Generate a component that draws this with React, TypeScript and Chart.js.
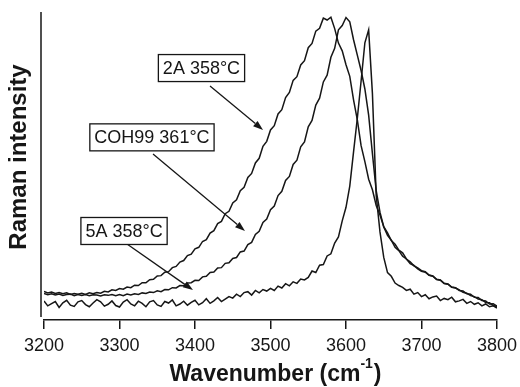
import React, { useEffect, useRef } from "react";
import { Chart, registerables } from "chart.js";

Chart.register(...registerables);

// Sampling grid of the spectra (cm^-1)
const WAVENUMBER_START = 3200;
const WAVENUMBER_STEP = 5;

// Raman intensity (arbitrary units), one value every 5 cm^-1 from 3200 to 3800
const INTENSITY_2A = [
  9.3, 8.8, 9.1, 8.6, 8.9, 8.5, 8.8, 8.3, 8.6, 8.4,
  8.7, 8.3, 8.8, 8.5, 8.9, 8.7, 9.3, 9.1, 9.8, 9.6,
  10.2, 10.0, 10.7, 10.5, 11.3, 11.2, 12.1, 12.1, 13.1, 13.2,
  14.3, 14.4, 15.5, 15.7, 17.0, 17.4, 18.8, 19.3, 20.9, 21.4,
  23.1, 23.6, 25.5, 26.1, 28.2, 29.0, 31.3, 32.0, 34.5, 35.3,
  38.0, 39.0, 42.0, 43.1, 46.3, 47.6, 51.0, 52.5, 56.4, 58.0,
  61.7, 63.1, 66.9, 68.3, 72.2, 73.9, 77.8, 79.0, 82.8, 84.2,
  88.4, 89.8, 93.8, 94.7, 98.0, 97.4, 98.3, 94.6, 89.9, 87.4,
  82.9, 79.1, 71.5, 65.0, 56.6, 51.4, 45.7, 42.3, 37.2, 34.1,
  30.3, 28.3, 25.8, 24.6, 22.7, 21.8, 19.8, 18.9, 17.6, 16.9,
  16.0, 15.7, 14.6, 14.3, 13.2, 13.0, 11.9, 11.7, 10.7, 10.5,
  9.6, 9.4, 8.5, 8.4, 7.4, 7.3, 6.3, 6.2, 5.2, 5.3,
  4.5,
];

const INTENSITY_COH99 = [
  8.6, 8.2, 8.5, 8.1, 8.4, 8.0, 8.3, 8.4, 7.9, 8.3,
  8.0, 8.3, 7.9, 8.2, 8.1, 7.8, 8.2, 8.0, 8.3, 7.9,
  8.3, 7.9, 8.4, 8.1, 8.5, 8.3, 8.8, 8.6, 9.1, 8.9,
  9.5, 9.2, 9.9, 9.8, 10.5, 10.4, 11.2, 11.1, 12.0, 12.1,
  12.9, 12.8, 14.0, 14.2, 15.4, 15.6, 16.9, 17.0, 18.4, 18.6,
  20.0, 20.3, 22.1, 22.4, 24.5, 25.2, 27.8, 28.8, 31.7, 32.8,
  35.8, 37.0, 40.4, 41.8, 45.3, 46.6, 50.5, 51.9, 56.2, 57.8,
  62.7, 64.8, 69.8, 72.0, 77.3, 79.5, 85.3, 88.2, 94.2, 95.6,
  98.2, 96.8, 91.0, 86.0, 81.0, 75.0, 66.5, 54.0, 42.0, 35.0,
  30.2, 27.5, 25.9, 23.6, 22.5, 20.7, 19.8, 18.3, 17.7, 16.6,
  15.8, 15.5, 14.5, 14.2, 13.1, 12.9, 11.8, 11.6, 10.6, 10.4,
  9.8, 9.0, 8.7, 7.9, 7.6, 6.8, 6.6, 5.7, 5.6, 4.7,
  4.4,
];

const INTENSITY_5A = [
  6.2, 4.6, 5.3, 6.0, 4.1, 5.6, 6.4, 4.8, 4.4, 5.9,
  6.3, 5.0, 4.3, 5.5, 6.6, 5.9, 4.5, 5.1, 6.2, 4.7,
  4.2, 5.8, 6.6, 5.2, 4.6, 6.1, 5.4, 4.3, 5.9, 6.3,
  4.9, 4.4, 6.0, 5.5, 6.5, 4.6, 5.2, 6.1, 4.8, 5.7,
  6.4, 4.9, 5.6, 6.9, 5.4, 6.2, 7.3, 6.0, 6.8, 7.6,
  7.1, 8.4, 7.6, 8.9, 9.2, 8.1, 9.6, 8.8, 9.9, 9.4,
  10.3, 9.6, 11.0, 10.4, 11.8, 11.1, 12.4, 11.9, 13.3, 13.0,
  13.8, 15.9, 15.4, 17.8, 18.0, 20.8, 21.5, 25.0, 27.0, 32.2,
  36.6, 43.5, 54.6, 65.5, 77.6, 90.0, 94.2, 73.5, 40.4, 28.6,
  20.3, 15.4, 14.2, 12.0, 11.2, 10.6, 9.6, 10.0, 8.4, 8.9,
  7.6, 8.2, 6.9, 7.5, 7.8, 6.3, 7.0, 6.6, 7.4, 5.9,
  6.2, 6.7, 5.4, 6.0, 5.1, 5.6, 4.6, 5.2, 4.3, 4.6,
  3.9,
];

const X_TICKS = [3200, 3300, 3400, 3500, 3600, 3700, 3800];
const X_MIN = 3200;
const X_MAX = 3800;
const Y_MIN = 0;
const Y_MAX = 100;

const SERIES_LABELS = ["2A 358°C", "COH99 361°C", "5A 358°C"];
const Y_TITLE = "Raman intensity";
const X_TITLE_MAIN = "Wavenumber (cm";
const X_TITLE_SUP = "-1";
const X_TITLE_END = ")";

// Callouts, anchored in data coordinates (wavenumber, intensity)
const CALLOUTS = [
  { text: SERIES_LABELS[0], box: [3408.6, 81.8], from: [3419.9, 76.0], to: [3490.1, 61.7] },
  { text: SERIES_LABELS[1], box: [3343.0, 59.3], from: [3344.4, 53.9], to: [3466.2, 28.9] },
  { text: SERIES_LABELS[2], box: [3306.0, 28.9], from: [3309.9, 24.7], to: [3397.3, 9.7] },
];

const INK = "#161616";
const FONT = "'Liberation Sans', Arial, Helvetica, sans-serif";

const toPoints = (arr: number[]) =>
  arr.map((v, i) => ({ x: WAVENUMBER_START + i * WAVENUMBER_STEP, y: v }));

const decorPlugin = {
  id: "decor",
  afterDraw(chart: any) {
    const { ctx, chartArea } = chart;
    const xs = chart.scales.x;
    const ys = chart.scales.y;
    ctx.save();

    // y axis line (offset from x axis, as in the figure)
    ctx.strokeStyle = INK;
    ctx.lineWidth = 1.5;
    ctx.beginPath();
    ctx.moveTo(chartArea.left - 3, chartArea.top);
    ctx.lineTo(chartArea.left - 3, chartArea.bottom - 3);
    ctx.stroke();

    // y title
    ctx.save();
    ctx.translate(19, (chartArea.top + chartArea.bottom) / 2 - 9);
    ctx.rotate(-Math.PI / 2);
    ctx.fillStyle = INK;
    ctx.font = `bold 24px ${FONT}`;
    ctx.textAlign = "center";
    ctx.textBaseline = "middle";
    ctx.fillText(Y_TITLE, 0, 0);
    ctx.restore();

    // x title with superscript
    const mainFont = `bold 23px ${FONT}`;
    const supFont = `bold 14px ${FONT}`;
    ctx.font = mainFont;
    const wMain = ctx.measureText(X_TITLE_MAIN).width;
    const wEnd = ctx.measureText(X_TITLE_END).width;
    ctx.font = supFont;
    const wSup = ctx.measureText(X_TITLE_SUP).width;
    const total = wMain + wSup + 1 + wEnd;
    const cx = (chartArea.left + chartArea.right) / 2 + 5;
    const baseY = 381;
    let tx = cx - total / 2;
    ctx.fillStyle = INK;
    ctx.textAlign = "left";
    ctx.textBaseline = "alphabetic";
    ctx.font = mainFont;
    ctx.fillText(X_TITLE_MAIN, tx, baseY);
    tx += wMain;
    ctx.font = supFont;
    ctx.fillText(X_TITLE_SUP, tx, baseY - 13);
    tx += wSup + 1;
    ctx.font = mainFont;
    ctx.fillText(X_TITLE_END, tx, baseY);

    // callouts
    ctx.font = `18px ${FONT}`;
    CALLOUTS.forEach((c) => {
      const x1 = xs.getPixelForValue(c.from[0]);
      const y1 = ys.getPixelForValue(c.from[1]);
      const x2 = xs.getPixelForValue(c.to[0]);
      const y2 = ys.getPixelForValue(c.to[1]);
      const ang = Math.atan2(y2 - y1, x2 - x1);
      const headLen = 10;
      const headW = 3.5;
      const bx = x2 - headLen * Math.cos(ang);
      const by = y2 - headLen * Math.sin(ang);
      ctx.strokeStyle = INK;
      ctx.lineWidth = 1.3;
      ctx.beginPath();
      ctx.moveTo(x1, y1);
      ctx.lineTo(bx, by);
      ctx.stroke();
      ctx.fillStyle = INK;
      ctx.beginPath();
      ctx.moveTo(x2, y2);
      ctx.lineTo(bx + headW * Math.sin(ang), by - headW * Math.cos(ang));
      ctx.lineTo(bx - headW * Math.sin(ang), by + headW * Math.cos(ang));
      ctx.closePath();
      ctx.fill();

      const px = xs.getPixelForValue(c.box[0]);
      const py = ys.getPixelForValue(c.box[1]);
      const tw = ctx.measureText(c.text).width;
      const bw = tw + 9;
      const bh = 27;
      ctx.fillStyle = "#ffffff";
      ctx.fillRect(px - bw / 2, py - bh / 2, bw, bh);
      ctx.strokeStyle = INK;
      ctx.lineWidth = 1.3;
      ctx.strokeRect(px - bw / 2, py - bh / 2, bw, bh);
      ctx.fillStyle = INK;
      ctx.textAlign = "center";
      ctx.textBaseline = "middle";
      ctx.fillText(c.text, px, py + 1);
    });

    ctx.restore();
  },
};

export default function App() {
  const canvasRef = useRef<HTMLCanvasElement | null>(null);

  useEffect(() => {
    const canvas = canvasRef.current;
    if (!canvas) return;
    const lineStyle = {
      borderColor: INK,
      borderWidth: 1.5,
      pointRadius: 0,
      tension: 0,
      fill: false,
    };
    const chart = new Chart(canvas, {
      type: "line",
      data: {
        datasets: [
          { label: SERIES_LABELS[0], data: toPoints(INTENSITY_2A), ...lineStyle },
          { label: SERIES_LABELS[1], data: toPoints(INTENSITY_COH99), ...lineStyle },
          { label: SERIES_LABELS[2], data: toPoints(INTENSITY_5A), ...lineStyle },
        ],
      },
      options: {
        responsive: false,
        animation: false,
        layout: { padding: { left: 44, right: 23, top: 12, bottom: 0 } },
        plugins: {
          legend: { display: false },
          tooltip: { enabled: false },
          title: { display: false },
        },
        scales: {
          x: {
            type: "linear",
            min: X_MIN,
            max: X_MAX,
            afterBuildTicks: (scale: any) => {
              scale.ticks = X_TICKS.map((v) => ({ value: v }));
            },
            afterFit: (scale: any) => {
              scale.height = 67;
              scale.paddingRight = 0;
              scale.paddingLeft = 0;
            },
            ticks: {
              color: INK,
              font: { family: FONT, size: 18, lineHeight: 1.35 },
              padding: 5,
              maxRotation: 0,
              autoSkip: false,
              callback: (v: any) => String(v),
            },
            grid: {
              display: true,
              drawOnChartArea: false,
              drawTicks: true,
              tickLength: 9,
              color: INK,
              lineWidth: 1.5,
            },
            border: { display: true, color: INK, width: 1.5 },
          },
          y: {
            display: false,
            min: Y_MIN,
            max: Y_MAX,
          },
        },
      },
      plugins: [decorPlugin],
    });
    return () => chart.destroy();
  }, []);

  return (
    <div style={{ position: "absolute", left: 0, top: 0, width: 520, height: 387, background: "#fff" }}>
      <canvas ref={canvasRef} width={520} height={387} style={{ display: "block" }} />
    </div>
  );
}
